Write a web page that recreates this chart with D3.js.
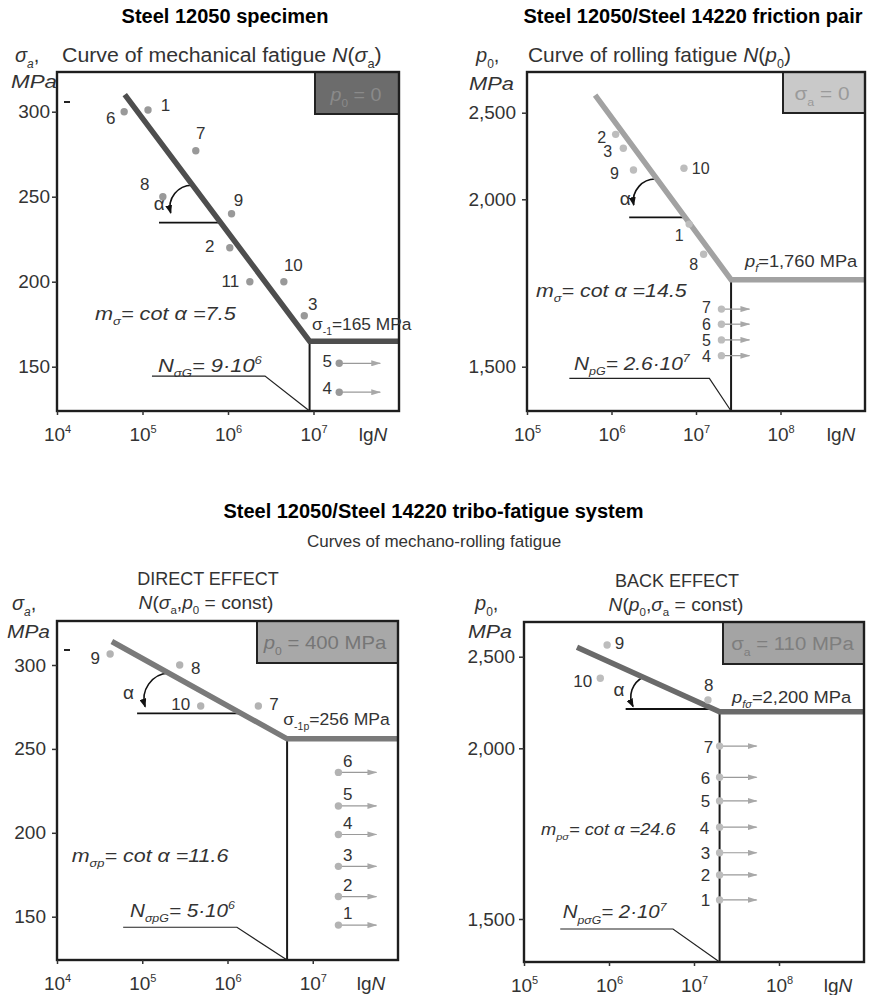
<!DOCTYPE html>
<html><head><meta charset="utf-8">
<script src="https://cdn.jsdelivr.net/npm/d3@7"></script>
<style>
body{margin:0;background:#fff}
svg{display:block}
text{font-family:"Liberation Sans", Arial, Helvetica, sans-serif}
</style>
</head><body>
<svg id="c" width="872" height="995"></svg>
<script>
// ================= DATA (N in cycles, stresses / pressures in MPa) =================
// Panel A: Steel 12050 specimen, mechanical fatigue N(sigma_a)
const mechCurve   = [[6.2e4, 310], [9e6, 165], [1e8, 165]];
const mechPoints  = [["6",6.1e4,300],["1",1.16e5,301],["7",4.2e5,277],["8",1.73e5,250],["9",1.1e6,240],
                     ["2",1.05e6,220],["11",1.8e6,200],["10",4.5e6,200],["3",7.8e6,180]];
const mechRunouts = [["5",2e7,152],["4",2e7,135]];
const mechYTicks  = [150,200,250,300];
const mechXTicks  = [1e4,1e5,1e6,1e7];

// Panel B: friction pair, rolling fatigue N(p0)
const rollCurve   = [[6.4e5, 2602], [2.6e7, 1760], [1e9, 1760]];
const rollPoints  = [["2",1.12e6,2375],["3",1.38e6,2295],["9",1.82e6,2169],["10",7.2e6,2179],
                     ["1",8.3e6,1926],["8",1.23e7,1836]];
const rollRunouts = [["7",2e7,1672],["6",2e7,1627],["5",2e7,1580],["4",2e7,1533]];
const rollYTicks  = [1500,2000,2500];
const rollXTicks  = [1e5,1e6,1e7,1e8];

// Panel C: tribo-fatigue system, direct effect N(sigma_a, p0 = const)
const directCurve   = [[4.4e4, 314], [5e6, 256], [1e8, 256]];
const directPoints  = [["9",4.2e4,306.6],["8",2.75e5,300],["10",4.85e5,275.6],["7",2.3e6,275.6]];
const directRunouts = [["6",2e7,236],["5",2e7,216],["4",2e7,199],["3",2e7,180],["2",2e7,162],["1",2e7,145]];
const directYTicks  = [150,200,250,300];
const directXTicks  = [1e4,1e5,1e6,1e7];

// Panel D: tribo-fatigue system, back effect N(p0, sigma_a = const)
const backCurve   = [[4.2e5, 2551], [2e7, 2200], [1e9, 2200]];
const backPoints  = [["9",9.5e5,2564],["10",7.9e5,2382],["8",1.46e7,2264]];
const backRunouts = [["7",2e7,2012],["6",2e7,1915],["5",2e7,1846],["4",2e7,1769],["3",2e7,1694],["2",2e7,1629],["1",2e7,1556]];
const backYTicks  = [1500,2000,2500];
const backXTicks  = [1e5,1e6,1e7,1e8];

// ================= LAYOUT / STYLE =================
const svg = d3.select("#c");
const defs = svg.append("defs");
defs.append("marker").attr("id","arrK").attr("markerUnits","userSpaceOnUse")
  .attr("markerWidth",9).attr("markerHeight",7).attr("refX",8).attr("refY",3.5).attr("orient","auto")
  .append("path").attr("d","M0,0 L9,3.5 L0,7 z").attr("fill","#111");
defs.append("marker").attr("id","arrG").attr("markerUnits","userSpaceOnUse")
  .attr("markerWidth",10).attr("markerHeight",6).attr("refX",9).attr("refY",3).attr("orient","auto")
  .append("path").attr("d","M0,0 L10,3 L0,6 z").attr("fill","#a8a8a8");

function rich(g, x, y, segs, o) {
  o = o || {};
  const size = o.size || 18;
  const t = g.append("text").attr("x", x).attr("y", y)
    .attr("font-size", size).attr("fill", o.fill || "#333")
    .attr("text-anchor", o.anchor || "start")
    .attr("font-style", o.italic ? "italic" : "normal")
    .attr("font-weight", o.bold ? "bold" : "normal");
  let shift = 0;
  segs.forEach(s => {
    if (typeof s === "string") s = {t: s};
    const target = s.sub ? size * 0.3 : s.sup ? -size * 0.42 : 0;
    const ts = t.append("tspan").text(s.t);
    if (target - shift !== 0) ts.attr("dy", target - shift);
    shift = target;
    if (s.sub || s.sup) ts.attr("font-size", size * 0.6);
    if (s.i !== undefined) ts.attr("font-style", s.i ? "italic" : "normal");
  });
  if (o.w) {
    const bw = t.node().getBBox().width;
    if (bw > 0) {
      const sx = o.w / bw;
      t.attr("transform", `translate(${x},0) scale(${sx},1) translate(${-x},0)`);
    }
  }
  return t;
}

const fmtInt = d3.format("d"), fmtComma = d3.format(",");

const panels = [
  { // A
    curve: mechCurve, points: mechPoints, runouts: mechRunouts, yTicks: mechYTicks, xTicks: mechXTicks,
    left:57, right:399, top:72, bottom:411, xDomain:[1e4,1e8], yDomain:[150,300], yRange:[366.7,111.7],
    yPad:2, yFmt: fmtInt, curveColor:"#4e4e4e", pointColor:"#999", arrowLen:41,
    box:{x0:315, y1:114, fill:"#6c6c6c", color:"#8a8a8a", cx:356, by:101, w:52,
         segs:[{t:"p",i:true},{t:"0",sub:true},{t:" = 0"}]},
    leader:{n0:1.29e5, n1:2.71e6, v:144.5},
    alpha:{level:234.7, startN:1.56e5, sDist:46.8, ex:-50, ey:-9.7, r:22, lx:-61.5, ly:-19.7},
    off:{"6":[-13.5,7],"1":[17.5,-4.5],"7":[5,-17],"8":[-18,-12.5],"9":[7,-13.5],"2":[-20,-1],
         "11":[-19.5,0],"10":[9.5,-16.7],"3":[8.5,-11.7],"5":[-12,-1.7],"4":[-12,-3.7]},
    dash:[64,70,102], lgx:373,
    texts:[
      {x:95,y:320,o:{italic:true,w:142},segs:["m",{t:"σ",sub:true},"= cot α =7.5"]},
      {x:158,y:371.7,o:{italic:true,w:104},segs:["N",{t:"σG",sub:true},"= 9·10",{t:"6",sup:true}]},
      {x:312,y:330,o:{size:17,w:100},segs:["σ",{t:"-1",sub:true},"=165 MPa"]},
      {x:15,y:62,o:{size:20},segs:[{t:"σ",i:true},{t:"a",sub:true,i:true},","]},
      {x:11,y:88,o:{size:18,italic:true,w:46},segs:["MPa"]},
      {x:62,y:62,o:{size:20,w:320},segs:["Curve of mechanical fatigue  ",{t:"N",i:true},"(",{t:"σ",i:true},{t:"a",sub:true},")"]},
      {x:225,y:23,o:{size:20,bold:true,anchor:"middle",fill:"#000"},segs:["Steel 12050 specimen"]}
    ]
  },
  { // B
    curve: rollCurve, points: rollPoints, runouts: rollRunouts, yTicks: rollYTicks, xTicks: rollXTicks,
    left:527, right:865, top:72, bottom:411, xDomain:[1e5,1e9], yDomain:[1500,2000,2500], yRange:[366.7,199.3,112.7],
    yPad:6, yFmt: fmtComma, curveColor:"#a2a2a2", pointColor:"#bdbdbd", arrowLen:28,
    box:{x0:783, y1:113, fill:"#c9c9c9", color:"#9a9a9a", cx:822, by:100, w:55,
         segs:[{t:"σ"},{t:"a",sub:true},{t:" = 0"}]},
    leader:{n0:3.17e5, n1:1.44e7, v:1465},
    alpha:{level:1946, startN:1.62e6, sDist:47.5, ex:-51.5, ey:-12.3, r:22, lx:-60, ly:-19},
    off:{"2":[-14,3],"3":[-15.6,3.4],"9":[-19,3.3],"10":[16.7,0],"1":[-10,11],"8":[-10,10.7],
         "7":[-15,-1.5],"6":[-15,0],"5":[-15,1],"4":[-15,1]},
    labelSize:16,
    dash:null, lgx:841,
    texts:[
      {x:536,y:296.7,o:{italic:true,w:152},segs:["m",{t:"σ",sub:true},"= cot α =14.5"]},
      {x:574,y:370,o:{italic:true,w:117},segs:["N",{t:"pG",sub:true},"= 2.6·10",{t:"7",sup:true}]},
      {x:745,y:266.7,o:{size:17,w:114},segs:[{t:"p",i:true},{t:"f",sub:true,i:true},"=1,760 MPa"]},
      {x:476,y:62,o:{size:20},segs:[{t:"p",i:true},{t:"0",sub:true},","]},
      {x:469,y:90,o:{size:18,italic:true,w:45},segs:["MPa"]},
      {x:528,y:62,o:{size:20,w:263},segs:["Curve of rolling fatigue ",{t:"N",i:true},"(",{t:"p",i:true},{t:"0",sub:true},")"]},
      {x:693,y:23,o:{size:20,bold:true,anchor:"middle",fill:"#000"},segs:["Steel 12050/Steel 14220 friction pair"]}
    ]
  },
  { // C
    curve: directCurve, points: directPoints, runouts: directRunouts, yTicks: directYTicks, xTicks: directXTicks,
    left:57, right:398, top:621, bottom:960, xDomain:[1e4,1e8], yDomain:[150,300], yRange:[916.7,665],
    yPad:6, yFmt: fmtInt, curveColor:"#7a7a7a", pointColor:"#b3b3b3", arrowLen:38,
    box:{x0:257, y1:663, fill:"#a8a8a8", color:"#767676", cx:325, by:649, w:124,
         segs:[{t:"p",i:true},{t:"0",sub:true},{t:" = 400 MPa"}]},
    leader:{n0:5.97e4, n1:1.29e6, v:143.7},
    alpha:{level:271.2, startN:8.7e4, sDist:83, ex:-96, ey:-6.6, r:26, lx:-112.7, ly:-20.8},
    off:{"9":[-15,4.3],"8":[16,3.3],"10":[-20,-1],"7":[15.6,-1],
         "6":[9.4,-11.3],"5":[9.4,-11.3],"4":[9.4,-11.3],"3":[9.4,-11.3],"2":[9.4,-11.3],"1":[9.4,-11.5]},
    dash:[64,70,650], lgx:371,
    texts:[
      {x:71.7,y:861.7,o:{italic:true,w:158},segs:["m",{t:"σp",sub:true},"= cot α =11.6"]},
      {x:130,y:916.7,o:{italic:true,w:105},segs:["N",{t:"σpG",sub:true},"= 5·10",{t:"6",sup:true}]},
      {x:283.3,y:725,o:{size:17,w:107},segs:["σ",{t:"-1p",sub:true},"=256 MPa"]},
      {x:12,y:610,o:{size:20},segs:[{t:"σ",i:true},{t:"a",sub:true,i:true},","]},
      {x:7,y:638,o:{size:18,italic:true,w:43},segs:["MPa"]},
      {x:208,y:585,o:{size:18,anchor:"middle"},segs:["DIRECT EFFECT"]},
      {x:206,y:609,o:{size:18,anchor:"middle",w:135},segs:[{t:"N",i:true},"(",{t:"σ",i:true},{t:"a",sub:true},",",{t:"p",i:true},{t:"0",sub:true}," = const)"]}
    ]
  },
  { // D
    curve: backCurve, points: backPoints, runouts: backRunouts, yTicks: backYTicks, xTicks: backXTicks,
    left:524, right:864, top:622, bottom:962, xDomain:[1e5,1e9], yDomain:[1500,2000,2500], yRange:[919,748.3,656.7],
    yPad:4, yFmt: fmtComma, curveColor:"#6a6a6a", pointColor:"#bdbdbd", arrowLen:37,
    box:{x0:723, y1:664, fill:"#a4a4a4", color:"#7e7e7e", cx:792.5, by:650, w:123,
         segs:[{t:"σ"},{t:"a",sub:true},{t:" = 110 MPa"}]},
    leader:{n0:2.67e5, n1:5.66e6, v:1470.7},
    alpha:{level:2214.5, startN:1.57e6, sDist:77.4, ex:-80.6, ey:-2.3, r:22, lx:-94.6, ly:-20},
    off:{"9":[12.5,-1],"10":[-17.5,3.4],"8":[0.7,-14],
         "7":[-11,1.5],"6":[-14,1],"5":[-14,1],"4":[-15,1],"3":[-14,1],"2":[-14,1],"1":[-14,1]},
    dash:null, lgx:838,
    texts:[
      {x:541,y:835,o:{size:16,italic:true,w:135},segs:["m",{t:"pσ",sub:true},"= cot α =24.6"]},
      {x:562.7,y:918.3,o:{italic:true,w:105},segs:["N",{t:"pσG",sub:true},"= 2·10",{t:"7",sup:true}]},
      {x:732,y:702.7,o:{size:17,w:121},segs:[{t:"p",i:true},{t:"fσ",sub:true,i:true},"=2,200 MPa"]},
      {x:475,y:610,o:{size:20},segs:[{t:"p",i:true},{t:"0",sub:true},","]},
      {x:468,y:638,o:{size:18,italic:true,w:44},segs:["MPa"]},
      {x:677,y:587,o:{size:18,anchor:"middle"},segs:["BACK EFFECT"]},
      {x:676,y:611,o:{size:18,anchor:"middle",w:135},segs:[{t:"N",i:true},"(",{t:"p",i:true},{t:"0",sub:true},",",{t:"σ",i:true},{t:"a",sub:true}," = const)"]}
    ]
  }
];

function drawPanel(P) {
  const g = svg.append("g");
  const x = d3.scaleLog().domain(P.xDomain).range([P.left, P.right]);
  const y = d3.scaleLinear().domain(P.yDomain).range(P.yRange);

  // knee vertical line
  const knee = P.curve[1];
  g.append("line").attr("x1", x(knee[0])).attr("x2", x(knee[0]))
    .attr("y1", y(knee[1])).attr("y2", P.bottom).attr("stroke","#1a1a1a").attr("stroke-width",2);

  // leader line
  const L = P.leader;
  g.append("path")
    .attr("d", `M${x(L.n0)},${y(L.v)} H${x(L.n1)} L${x(knee[0])},${P.bottom}`)
    .attr("fill","none").attr("stroke","#222").attr("stroke-width",1.2);

  // alpha annotation
  const A = P.alpha;
  const c0 = [x(P.curve[0][0]), y(P.curve[0][1])], c1 = [x(knee[0]), y(knee[1])];
  const yh = y(A.level);
  const tt = (yh - c0[1]) / (c1[1] - c0[1]);
  const ix = c0[0] + tt * (c1[0] - c0[0]);
  g.append("line").attr("x1", x(A.startN)).attr("x2", ix).attr("y1", yh).attr("y2", yh)
    .attr("stroke","#111").attr("stroke-width",1.8);
  const ux = c0[0] - ix, uy = c0[1] - yh, ul = Math.hypot(ux, uy);
  const sx = ix + ux / ul * A.sDist, sy = yh + uy / ul * A.sDist;
  const ex = ix + A.ex, ey = yh + A.ey;
  g.append("path").attr("d", `M${sx},${sy} A${A.r},${A.r} 0 0 0 ${ex},${ey}`)
    .attr("fill","none").attr("stroke","#111").attr("stroke-width",1.6).attr("marker-end","url(#arrK)");
  g.append("text").attr("x", ix + A.lx).attr("y", yh + A.ly).attr("text-anchor","middle")
    .attr("dominant-baseline","central").attr("font-size",19).attr("fill","#333").text("α");

  // curve
  const line = d3.line().x(d => x(d[0])).y(d => y(d[1]));
  g.append("path").datum(P.curve).attr("d", line).attr("fill","none")
    .attr("stroke", P.curveColor).attr("stroke-width",5.5).attr("stroke-linejoin","miter");

  // run-out arrows
  g.selectAll(".ro").data(P.runouts).enter().append("line")
    .attr("x1", d => x(d[1]) + 3).attr("x2", d => x(d[1]) + P.arrowLen)
    .attr("y1", d => y(d[2])).attr("y2", d => y(d[2]))
    .attr("stroke","#9a9a9a").attr("stroke-width",1.2).attr("marker-end","url(#arrG)");

  // points
  const all = P.points.concat(P.runouts);
  g.selectAll(".pt").data(all).enter().append("circle")
    .attr("cx", d => x(d[1])).attr("cy", d => y(d[2])).attr("r",3.7).attr("fill", P.pointColor);
  g.selectAll(".pl").data(all).enter().append("text")
    .attr("x", d => x(d[1]) + P.off[d[0]][0]).attr("y", d => y(d[2]) + P.off[d[0]][1])
    .attr("text-anchor","middle").attr("dominant-baseline","central")
    .attr("font-size", P.labelSize || 17).attr("fill","#333").text(d => d[0]);

  // box
  const B = P.box;
  g.append("rect").attr("x", B.x0).attr("y", P.top).attr("width", P.right - B.x0).attr("height", B.y1 - P.top)
    .attr("fill", B.fill).attr("stroke","#222").attr("stroke-width",2);
  rich(g, B.cx, B.by, B.segs, {size:19, anchor:"middle", fill:B.color, w:B.w});

  // frame
  g.append("rect").attr("x",P.left).attr("y",P.top).attr("width",P.right-P.left).attr("height",P.bottom-P.top)
    .attr("fill","none").attr("stroke","#1e1e1e").attr("stroke-width",2.4);

  // y axis
  const yg = g.append("g").attr("transform",`translate(${P.left},0)`)
    .call(d3.axisLeft(y).tickValues(P.yTicks).tickSize(5).tickPadding(P.yPad).tickFormat(P.yFmt));
  yg.select(".domain").remove();
  yg.attr("font-family",null).attr("font-size",null);
  yg.selectAll(".tick text").attr("font-size",19).attr("fill","#333");
  yg.selectAll(".tick line").attr("stroke","#333").attr("stroke-width",1.5);

  // x axis
  const xg = g.append("g").attr("transform",`translate(0,${P.bottom})`)
    .call(d3.axisBottom(x).tickValues(P.xTicks).tickSize(4).tickFormat(""));
  xg.select(".domain").remove();
  xg.attr("font-family",null).attr("font-size",null);
  xg.selectAll(".tick line").attr("stroke","#333").attr("stroke-width",1.5);
  xg.selectAll(".tick text").each(function(d) {
    const t = d3.select(this);
    t.text(null).attr("y",30).attr("dy",null).attr("font-size",19).attr("fill","#333");
    t.append("tspan").text("10");
    t.append("tspan").text(Math.round(Math.log10(d))).attr("font-size",11).attr("dy",-8);
  });
  rich(g, P.lgx, P.bottom + 30, ["lg", {t:"N", i:true}], {size:19, anchor:"middle"});

  // stray dash mark
  if (P.dash) g.append("line").attr("x1",P.dash[0]).attr("x2",P.dash[1]).attr("y1",P.dash[2]).attr("y2",P.dash[2])
    .attr("stroke","#222").attr("stroke-width",2);

  // texts
  P.texts.forEach(T => rich(g, T.x, T.y, T.segs, T.o));
}

panels.forEach(drawPanel);

// middle headings
rich(svg, 433.5, 518, ["Steel 12050/Steel 14220 tribo-fatigue system"], {size:20, bold:true, anchor:"middle", fill:"#000"});
rich(svg, 434, 547, ["Curves of mechano-rolling fatigue"], {size:17, anchor:"middle"});
</script>
</body></html>
